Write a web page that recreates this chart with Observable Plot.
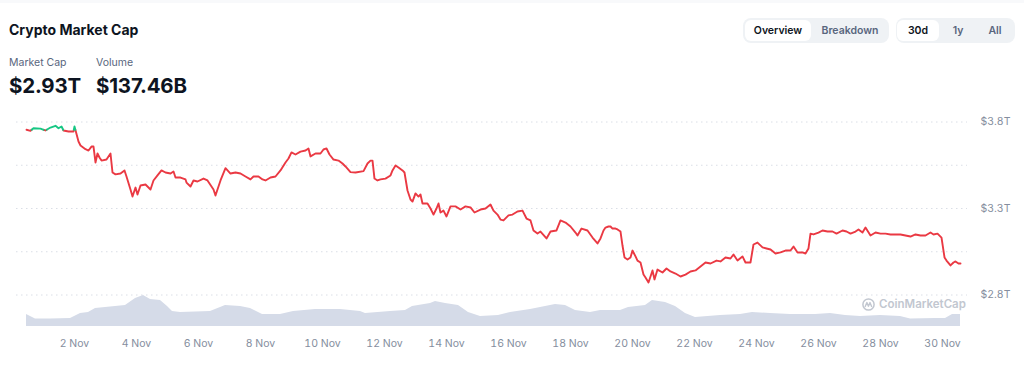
<!DOCTYPE html>
<html>
<head>
<meta charset="utf-8">
<script src="https://cdn.jsdelivr.net/npm/d3@7"></script>
<script src="https://cdn.jsdelivr.net/npm/@observablehq/plot@0.6"></script>
<style>
  html, body { margin: 0; padding: 0; background: #fff; }
  #root { position: relative; width: 1024px; height: 370px; overflow: hidden; font-family: Inter, "Noto Sans", sans-serif; }
  .abs { position: absolute; }
  #strip { left: 0; top: 0; width: 1024px; height: 3px; background: #f8f9fb; }
  #title { left: 9px; top: 21px; font-size: 14px; font-weight: 700; color: #0d1421; }
  .lbl { top: 56px; font-size: 10.5px; color: #58667e; }
  .big { top: 73px; font-size: 20.5px; font-weight: 700; color: #0d1421; letter-spacing: -0.2px; }
  .grp { top: 18px; height: 25px; background: #eff2f5; border-radius: 8px; }
  .btn { position: absolute; top: 2px; height: 21px; line-height: 21px; font-size: 10.5px; font-weight: 600; text-align: center; color: #58667e; }
  .btn.on { background: #fff; border-radius: 6px; color: #0d1421; }
  #plots svg { position: absolute; left: 0; top: 0; }
  #wm { left: 862px; top: 297px; display: flex; align-items: center; gap: 4px; color: #c2c7d0; font-size: 11.5px; font-weight: 600; }
</style>
</head>
<body>
<div id="root">
  <div id="strip" class="abs"></div>
  <div id="plots"></div>
  <div id="title" class="abs">Crypto Market Cap</div>
  <div class="abs lbl" style="left:9px">Market Cap</div>
  <div class="abs lbl" style="left:96px">Volume</div>
  <div class="abs big" style="left:9px">$2.93T</div>
  <div class="abs big" style="left:96px">$137.46B</div>
  <div class="abs grp" style="left:743px;width:146px">
    <div class="btn on" style="left:2px;width:66px">Overview</div>
    <div class="btn" style="left:70px;width:74px">Breakdown</div>
  </div>
  <div class="abs grp" style="left:896px;width:119px">
    <div class="btn on" style="left:1px;width:42px">30d</div>
    <div class="btn" style="left:45px;width:34px">1y</div>
    <div class="btn" style="left:81px;width:36px">All</div>
  </div>
  <div id="wm" class="abs">
    <svg width="13" height="13" viewBox="0 0 13 13"><circle cx="6.5" cy="6.5" r="5.6" fill="none" stroke="#c2c7d0" stroke-width="1.5"/><path d="M3.2 8.6 L4.9 4.6 L6.4 8.2 L8 4.6 L9.6 8.4" fill="none" stroke="#c2c7d0" stroke-width="1.4" stroke-linejoin="round" stroke-linecap="round"/></svg>
    <span>CoinMarketCap</span>
  </div>
</div>
<script>
// Market cap series: day of November (1 = 1 Nov 00:00 UTC), value in trillions USD
const mcDay = [0.452,0.581,0.677,0.903,1.065,1.226,1.387,1.484,1.581,1.645,1.806,1.968,2.0,2.129,2.194,2.355,2.452,2.548,2.613,2.677,2.742,2.806,2.871,3.032,3.161,3.226,3.323,3.484,3.613,3.677,3.806,3.871,3.968,4.032,4.129,4.290,4.452,4.548,4.677,4.806,4.935,5.097,5.194,5.258,5.419,5.581,5.613,5.742,5.839,5.968,6.161,6.290,6.484,6.548,6.710,6.871,7.032,7.194,7.355,7.516,7.677,7.774,7.935,8.065,8.161,8.323,8.484,8.645,8.806,8.903,9.0,9.129,9.290,9.452,9.548,9.613,9.774,9.935,10.032,10.129,10.226,10.355,10.516,10.645,10.742,10.903,11.065,11.323,11.452,11.548,11.613,11.677,11.774,11.871,12.032,12.194,12.258,12.355,12.452,12.581,12.645,12.742,12.839,12.903,13.0,13.097,13.161,13.226,13.387,13.484,13.581,13.677,13.742,13.806,13.903,14.0,14.129,14.290,14.452,14.613,14.774,14.903,15.097,15.258,15.419,15.516,15.645,15.742,15.839,16.0,16.129,16.290,16.452,16.581,16.710,16.806,16.935,17.032,17.226,17.355,17.548,17.677,17.839,18.0,18.161,18.226,18.355,18.548,18.710,18.871,18.968,19.065,19.129,19.226,19.290,19.355,19.452,19.516,19.613,19.677,19.742,19.839,19.935,20.0,20.097,20.161,20.258,20.355,20.419,20.516,20.581,20.645,20.710,20.806,20.968,21.097,21.226,21.387,21.548,21.710,21.871,22.032,22.194,22.355,22.516,22.710,22.839,23.0,23.161,23.258,23.387,23.548,23.645,23.806,23.903,24.032,24.194,24.323,24.452,24.613,24.774,24.935,25.097,25.194,25.323,25.484,25.581,25.677,25.742,25.839,26.0,26.129,26.290,26.452,26.581,26.774,26.903,27.032,27.194,27.290,27.419,27.516,27.677,27.839,28.0,28.161,28.323,28.484,28.645,28.806,28.968,29.129,29.290,29.452,29.613,29.710,29.839,29.968,30.065,30.129,30.258,30.355,30.419,30.516,30.581];
const mcValue = [3.755,3.749,3.764,3.762,3.751,3.768,3.778,3.764,3.774,3.751,3.745,3.745,3.774,3.687,3.664,3.643,3.635,3.658,3.658,3.566,3.618,3.595,3.577,3.583,3.618,3.508,3.497,3.502,3.520,3.485,3.410,3.369,3.421,3.381,3.433,3.439,3.410,3.462,3.491,3.520,3.508,3.502,3.514,3.479,3.479,3.468,3.450,3.427,3.462,3.456,3.473,3.462,3.410,3.375,3.462,3.533,3.502,3.508,3.502,3.485,3.468,3.485,3.485,3.468,3.462,3.479,3.485,3.520,3.566,3.589,3.624,3.612,3.629,3.635,3.647,3.601,3.618,3.618,3.641,3.647,3.612,3.583,3.577,3.560,3.543,3.510,3.508,3.516,3.560,3.577,3.577,3.473,3.462,3.468,3.473,3.491,3.520,3.549,3.537,3.520,3.508,3.404,3.352,3.340,3.387,3.369,3.381,3.329,3.329,3.300,3.265,3.300,3.329,3.277,3.288,3.254,3.312,3.312,3.294,3.312,3.306,3.277,3.294,3.300,3.323,3.288,3.265,3.236,3.231,3.260,3.265,3.283,3.288,3.242,3.231,3.173,3.155,3.167,3.127,3.167,3.173,3.231,3.219,3.196,3.161,3.144,3.184,3.173,3.132,3.098,3.127,3.173,3.190,3.196,3.196,3.184,3.184,3.179,3.167,3.086,3.017,3.005,3.017,3.057,3.023,2.999,2.988,2.918,2.901,2.872,2.907,2.942,2.890,2.947,2.930,2.953,2.936,2.924,2.907,2.918,2.936,2.942,2.965,2.988,2.982,2.999,2.994,3.017,3.011,3.034,2.999,3.023,2.988,2.988,3.092,3.103,3.075,3.069,3.063,3.040,3.046,3.057,3.057,3.080,3.046,3.046,3.040,3.069,3.155,3.150,3.161,3.173,3.167,3.167,3.155,3.173,3.167,3.155,3.167,3.179,3.161,3.190,3.144,3.161,3.155,3.155,3.150,3.150,3.150,3.144,3.138,3.150,3.144,3.144,3.161,3.150,3.155,3.132,3.017,2.999,2.971,2.988,2.994,2.982,2.982];

// Volume series: day of November, 24h volume in billions USD
const volDay = [0.452,0.581,0.742,1.226,1.871,2.194,2.452,2.677,3.0,3.323,3.645,3.968,4.226,4.452,4.774,5.0,5.161,5.419,6.387,6.871,7.355,7.677,8.065,8.645,9.065,9.774,10.581,11.226,11.387,12.194,12.677,12.903,13.484,13.645,13.968,14.387,14.710,15.097,15.677,16.065,16.710,17.194,17.516,17.839,18.161,18.645,18.968,19.613,19.871,20.419,20.645,21.065,21.387,21.710,22.032,22.839,23.484,23.871,24.452,25.097,25.903,26.387,26.871,27.355,28.0,28.645,28.968,29.774,30.097,30.323,30.581];
const volValue = [138,115,86,86,92,150,161,207,219,230,242,322,357,311,299,230,173,161,173,242,230,207,138,138,173,196,196,173,150,173,184,230,265,288,265,242,161,115,127,161,196,230,253,242,184,161,184,184,219,242,299,276,230,150,104,127,138,161,150,138,138,150,127,115,127,115,86,92,92,138,138];

// Axis ticks
const xTickDays = [2,4,6,8,10,12,14,16,18,20,22,24,26,28,30];
const yTickValues = [2.8, 3.3, 3.8];
const yGridValues = [2.8, 3.05, 3.3, 3.55, 3.8];

const RED = "#ea3943", GREEN = "#16c784";
const dayToDate = d => new Date(Date.UTC(2024, 9, 31) + d * 864e5);

const mc = mcDay.map((d, i) => ({date: dayToDate(d), value: mcValue[i]}));
const vol = volDay.map((d, i) => ({date: dayToDate(d), vol: volValue[i]}));

// split the line into segments above (green) / below (red) the opening value
const base = mcValue[0];
const segs = [];
let cur = {up: mc[0].value > base, pts: [mc[0]]};
for (let i = 1; i < mc.length; i++) {
  const a = mc[i - 1], b = mc[i];
  const up = b.value > base;
  if (up !== cur.up && (a.value - base) * (b.value - base) < 0) {
    const t = (base - a.value) / (b.value - a.value);
    const p = {date: new Date(+a.date + t * (b.date - a.date)), value: base};
    cur.pts.push(p);
    segs.push(cur);
    cur = {up, pts: [p, b]};
  } else {
    cur.pts.push(b);
  }
}
segs.push(cur);
const segRows = [];
segs.forEach((s, k) => s.pts.forEach(p => segRows.push({...p, seg: k, up: s.up})));

const xDomain = [dayToDate(2 - 58 / 31), dayToDate(2 + 893 / 31)];
const common = {width: 1024, height: 370, marginLeft: 16, marginRight: 57};

const volPlot = Plot.plot({
  ...common,
  marginTop: 291.2, marginBottom: 44,
  x: {type: "utc", domain: xDomain, axis: null},
  y: {domain: [0, 400], axis: null},
  style: {background: "transparent"},
  marks: [
    Plot.areaY(vol, {x: "date", y: "vol", fill: "#d5dbe8", curve: "linear"})
  ]
});

const mainPlot = Plot.plot({
  ...common,
  marginTop: 121.5, marginBottom: 75.5,
  x: {type: "utc", domain: xDomain},
  y: {domain: [2.8, 3.8]},
  style: {background: "transparent", fontFamily: "Inter, sans-serif", fontSize: "10.5px", color: "#858e9e"},
  marks: [
    Plot.gridY({ticks: yGridValues, stroke: "#dadee6", strokeOpacity: 1, strokeDasharray: "1.5,3.5"}),
    Plot.axisY({ticks: yTickValues, anchor: "right", tickSize: 0, tickPadding: 13, textAnchor: "start", tickFormat: d => `$${d.toFixed(1)}T`, label: null}),
    Plot.axisX({ticks: xTickDays.map(dayToDate), tickSize: 0, tickPadding: 45, tickFormat: d => `${d.getUTCDate()} Nov`, label: null}),
    Plot.line(segRows.filter(r => !r.up), {x: "date", y: "value", z: "seg", stroke: RED, strokeWidth: 1.9}),
    Plot.line(segRows.filter(r => r.up), {x: "date", y: "value", z: "seg", stroke: GREEN, strokeWidth: 1.9})
  ]
});

const host = document.getElementById("plots");
host.appendChild(volPlot);
host.appendChild(mainPlot);
</script>
</body>
</html>
